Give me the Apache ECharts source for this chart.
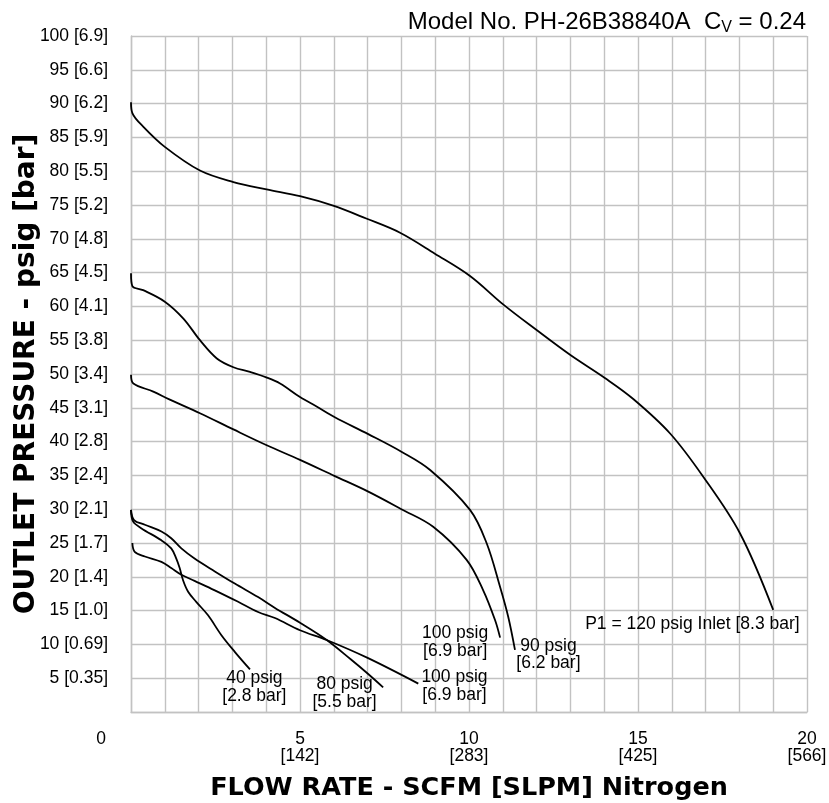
<!DOCTYPE html>
<html><head><meta charset="utf-8">
<script src="https://cdn.jsdelivr.net/npm/echarts@6/dist/echarts.min.js"></script>
<style>html,body{margin:0;padding:0;background:#fff}#c{width:829px;height:803px}</style>
</head><body><div id="c"></div>
<script>
// Axis tick labels
const xSlpmLabels = { 5: '[142]', 10: '[283]', 15: '[425]', 20: '[566]' };
const yBarLabels = ['0.35','0.69','1.0','1.4','1.7','2.1','2.4','2.8','3.1','3.4','3.8','4.1','4.5','4.8','5.2','5.5','5.9','6.2','6.6','6.9'];

// Curves: flow (SCFM) and outlet pressure (psig)
const flow120 = [0, 0.04, 0.36, 1.0, 2.04, 3.03, 4.01, 5.0, 5.98, 6.96, 7.96, 8.99, 10.03, 11.01, 12.0, 13.0, 14.02, 14.86, 15.95, 16.93, 18.02, 19.0];
const pres120 = [90.2, 88.6, 86.6, 83.6, 80.1, 78.4, 77.3, 76.3, 74.9, 73.0, 70.9, 67.8, 64.5, 60.3, 56.5, 52.8, 49.4, 46.3, 41.2, 34.8, 26.4, 15.1];

const flow90 = [0, 0.04, 0.36, 1.0, 1.55, 2.04, 2.54, 3.03, 3.52, 4.0, 4.41, 5.0, 5.49, 6.03, 7.02, 8.0, 8.85, 10.03, 10.52, 10.92, 11.16, 11.36];
const pres90 = [64.9, 63.0, 62.4, 60.7, 58.2, 55.0, 52.3, 51.0, 50.3, 49.5, 48.6, 46.6, 45.2, 43.6, 41.1, 38.5, 35.8, 29.9, 25.0, 18.5, 14.1, 9.2];

const flow100a = [0, 0.07, 0.66, 1.15, 2.04, 3.03, 4.0, 5.0, 6.03, 7.02, 8.0, 8.94, 9.93, 10.42, 10.77, 10.92];
const pres100a = [49.9, 48.6, 47.4, 46.2, 44.2, 41.8, 39.5, 37.3, 34.9, 32.6, 30.0, 27.4, 22.5, 18.0, 13.6, 11.0];

const flow40 = [0, 0.06, 0.30, 0.90, 1.19, 1.34, 1.44, 1.54, 1.69, 1.93, 2.28, 2.67, 3.07, 3.52];
const pres40 = [29.9, 28.2, 27.2, 25.4, 24.2, 22.7, 21.3, 19.5, 17.8, 16.3, 14.3, 11.4, 8.9, 6.3];

const flow80 = [0, 0.09, 0.41, 0.90, 1.19, 1.49, 1.88, 2.48, 3.07, 3.76, 4.26, 5.0, 5.79, 6.5, 7.0, 7.46];
const pres80 = [29.9, 28.4, 27.7, 26.7, 25.7, 24.2, 22.7, 20.8, 19.0, 17.0, 15.4, 13.2, 10.65, 7.8, 5.7, 3.65];

const flow100b = [0.04, 0.11, 0.41, 0.90, 1.19, 1.49, 1.88, 2.48, 3.17, 3.76, 4.26, 5.0, 5.79, 7.0, 8.5];
const pres100b = [25.0, 23.7, 23.0, 22.2, 21.3, 20.3, 19.4, 18.0, 16.3, 14.8, 13.9, 12.1, 10.65, 8.0, 4.2];

// Curve annotations: [flow, pressure, text]
const curveNotes = [
  [16.61, 13.0, 'P1 = 120 psig Inlet [8.3 bar]'],
  [12.35, 8.5, '90 psig\n[6.2 bar]'],
  [9.59, 10.36, '100 psig\n[6.9 bar]'],
  [9.57, 3.82, '100 psig\n[6.9 bar]'],
  [3.65, 3.67, '40 psig\n[2.8 bar]'],
  [6.32, 2.81, '80 psig\n[5.5 bar]']
];

const zip = (xs, ys) => xs.map((x, i) => [x, ys[i]]);
const curves = [
  zip(flow120, pres120), zip(flow90, pres90), zip(flow100a, pres100a),
  zip(flow40, pres40), zip(flow80, pres80), zip(flow100b, pres100b)
];

const FONT = 'Liberation Sans';
const HEAVY = 'DejaVu Sans';
const GRID = '#c2c2c2';

const chart = echarts.init(document.getElementById('c'), null, { renderer: 'canvas' });
chart.setOption({
  animation: false,
  backgroundColor: '#fff',
  title: {
    text: '{a|Model No. PH-26B38840A  C}{s|V}{a| = 0.24}',
    right: 23, top: 8, padding: 0,
    textStyle: {
      fontWeight: 'normal',
      rich: {
        a: { fontFamily: FONT, fontSize: 24, fontWeight: 'normal', color: '#000', lineHeight: 28 },
        s: { fontFamily: FONT, fontSize: 16, fontWeight: 'normal', color: '#000', lineHeight: 18, verticalAlign: 'bottom' }
      }
    }
  },
  grid: { left: 131, right: 22, top: 36, bottom: 91, outerBoundsMode: 'none', containLabel: false },
  xAxis: {
    type: 'value', min: 0, max: 20, interval: 1,
    name: 'FLOW RATE - SCFM [SLPM] Nitrogen',
    nameLocation: 'middle', nameGap: 63, nameMoveOverlap: false,
    nameTextStyle: { fontFamily: HEAVY, fontWeight: 'bold', fontSize: 25.5, color: '#000' },
    axisLine: { show: true, lineStyle: { color: GRID, width: 1.4 } },
    axisTick: { show: false },
    splitLine: { show: true, lineStyle: { color: GRID, width: 1.4 } },
    axisLabel: {
      margin: 19, fontFamily: FONT, fontSize: 17.5, lineHeight: 17, color: '#000',
      formatter: v => {
        if (v === 0) return '{z|0}';
        if (v % 5 === 0) return v + '\n' + xSlpmLabels[v];
        return '';
      },
      rich: { z: { fontFamily: FONT, fontSize: 17.5, lineHeight: 17, color: '#000', padding: [0, 60, 0, 0] } }
    }
  },
  yAxis: {
    type: 'value', min: 0, max: 100, interval: 5,
    name: 'OUTLET PRESSURE - psig [bar]',
    nameLocation: 'middle', nameGap: 90, nameRotate: 90, nameMoveOverlap: false,
    nameTextStyle: { fontFamily: HEAVY, fontWeight: 'bold', fontSize: 28, color: '#000' },
    axisLine: { show: true, lineStyle: { color: GRID, width: 1.4 } },
    axisTick: { show: false },
    splitLine: { show: true, lineStyle: { color: GRID, width: 1.4 } },
    axisLabel: {
      margin: 23, fontFamily: FONT, fontSize: 17.5, color: '#000',
      formatter: v => v === 0 ? '' : v + ' [' + yBarLabels[v / 5 - 1] + ']'
    }
  },
  series: curves.map(d => ({
    type: 'line', data: d, smooth: 0.35, symbol: 'none',
    lineStyle: { color: '#000', width: 1.8 }, silent: true, z: 3
  })).concat([{
    type: 'scatter', data: curveNotes, symbolSize: 0, silent: true, z: 5,
    itemStyle: { opacity: 1 },
    label: {
      show: true, position: 'inside', formatter: p => p.data[2], opacity: 1,
      fontFamily: FONT, fontSize: 17.5, lineHeight: 17.5, color: '#000', align: 'center',
      textBorderWidth: 0
    }
  }])
});
</script>
</body></html>
